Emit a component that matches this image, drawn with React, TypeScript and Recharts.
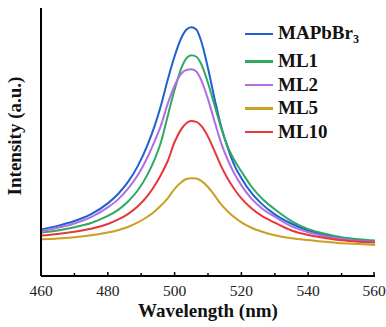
import React from "react";
import { LineChart, Line, XAxis, YAxis } from "recharts";

const wavelengths = [460, 465, 470, 475, 480, 483, 486, 489, 492, 494, 496, 498, 500, 502, 503.5, 505, 506.5, 508, 510, 512, 514, 516, 518, 520, 523, 526, 530, 535, 540, 545, 550, 555, 560];

const mapbbr3 = [17.4, 18.7, 20.5, 23.1, 27.1, 30.5, 35, 41.1, 49.2, 55.9, 64, 73.5, 82, 88.8, 91.9, 92.8, 92, 87.5, 77.5, 66, 55.5, 47.5, 41, 36.5, 31, 27, 23, 19.5, 17, 15.3, 14.2, 13.4, 12.8];
const ml1 = [16.2, 17, 18.2, 19.8, 22.4, 24.6, 27.7, 32, 38.1, 43.5, 50.3, 60, 69.5, 77.5, 81.2, 82.4, 81.8, 79, 72, 63.5, 55, 48, 43, 39, 33.4, 29.1, 24.9, 20.5, 17.5, 15.8, 14.5, 13.7, 13.2];
const ml2 = [16.8, 18, 19.6, 22, 25.6, 28.5, 32.5, 37.7, 44.6, 50.2, 56.5, 64.5, 71, 75.5, 76.9, 77.1, 76.3, 73, 66, 57.5, 49.4, 43.1, 38, 33.8, 28.9, 25.4, 22.1, 18.5, 16.3, 14.8, 13.8, 13.1, 12.7];
const ml5 = [13.7, 14, 14.5, 15.2, 16.2, 17.1, 18.3, 20, 22.2, 24.1, 26.4, 29.1, 32.5, 35, 36.2, 36.5, 36.4, 35.5, 33.2, 30, 26.6, 24, 21.8, 20, 18, 16.6, 15.2, 14.1, 13.4, 12.8, 12.2, 11.9, 11.6];
const ml10 = [15.1, 15.7, 16.5, 17.6, 19.4, 21, 23.1, 26, 30.1, 33.7, 38, 43.1, 50, 54.8, 57, 57.8, 57.5, 56, 52, 46.5, 40.8, 36.1, 32.2, 29, 25.3, 22.5, 19.9, 17, 15.3, 14.2, 13.3, 12.8, 12.5];

const xTicks = [460, 470, 480, 490, 500, 510, 520, 530, 540, 550, 560];

const series = [
  { key: "mapbbr3", name: "MAPbBr3", color: "#1f60d2", values: mapbbr3 },
  { key: "ml1", name: "ML1", color: "#2fa862", values: ml1 },
  { key: "ml2", name: "ML2", color: "#b06ee0", values: ml2 },
  { key: "ml5", name: "ML5", color: "#c9a021", values: ml5 },
  { key: "ml10", name: "ML10", color: "#e8363b", values: ml10 },
];

const data = wavelengths.map((w, i) => {
  const row: any = { w };
  series.forEach((s) => (row[s.key] = s.values[i]));
  return row;
});

const FONT = '"Liberation Serif", "Times New Roman", serif';

const BottomTick = (props: any) => {
  const { x, y, payload } = props;
  const major = payload.value % 20 === 0;
  return (
    <g>
      <line x1={x} x2={x} y1={y} y2={y - (major ? 4 : 3)} stroke="#000" strokeWidth={1.5} />
      {major && (
        <text x={x} y={y + 20} textAnchor="middle" fontFamily={FONT} fontSize={15.5} fill="#222">
          {payload.value}
        </text>
      )}
    </g>
  );
};

// legend drawn as plain html over the chart
const LegendBox = () => (
  <div style={{ position: "absolute", left: 245, top: 22, fontFamily: FONT, fontWeight: "bold", fontSize: 19, color: "#111", lineHeight: "24px" }}>
    {series.map((s, i) => (
      <div key={s.key} style={{ display: "flex", alignItems: "center", height: 23.5, marginTop: i === 1 ? 4 : 0 }}>
        <div style={{ width: 28, height: 2.5, background: s.color, marginRight: 5 }} />
        <span>
          {s.name === "MAPbBr3" ? (
            <>
              MAPbBr<span style={{ fontSize: 12, position: "relative", top: 4 }}>3</span>
            </>
          ) : (
            s.name
          )}
        </span>
      </div>
    ))}
  </div>
);

export default function App() {
  return (
    <div style={{ position: "absolute", left: 0, top: 0, width: 386, height: 327, background: "#fff" }}>
      <LineChart width={386} height={327} data={data} margin={{ top: 8, right: 11, bottom: 0, left: 0 }}>
        <XAxis
          dataKey="w"
          type="number"
          domain={[460, 560]}
          ticks={xTicks}
          tick={<BottomTick />}
          tickLine={false}
          tickSize={0}
          tickMargin={0}
          height={51}
          axisLine={{ stroke: "#000", strokeWidth: 2 }}
          label={{ value: "Wavelength (nm)", position: "insideBottom", offset: 10, style: { fontFamily: FONT, fontWeight: "bold", fontSize: 19, fill: "#111" } }}
        />
        <XAxis xAxisId="top" dataKey="w" type="number" domain={[460, 560]} orientation="top" height={0} tick={false} tickLine={false} axisLine={{ stroke: "#000", strokeWidth: 2 }} />
        <YAxis
          domain={[0, 100]}
          width={41}
          tick={false}
          tickLine={false}
          axisLine={{ stroke: "#000", strokeWidth: 2 }}
          label={{ value: "Intensity (a.u.)", angle: -90, position: "insideLeft", offset: 14, dy: -6, style: { fontFamily: FONT, fontWeight: "bold", fontSize: 19, fill: "#111", textAnchor: "middle" } }}
        />
        <YAxis yAxisId="right" orientation="right" domain={[0, 100]} width={0} tick={false} tickLine={false} axisLine={{ stroke: "#000", strokeWidth: 2 }} />
        {series.map((s) => (
          <Line
            key={s.key}
            dataKey={s.key}
            name={s.name}
            stroke={s.color}
            strokeWidth={2}
            dot={false}
            type="monotone"
            isAnimationActive={false}
          />
        ))}
      </LineChart>
      <LegendBox />
    </div>
  );
}
